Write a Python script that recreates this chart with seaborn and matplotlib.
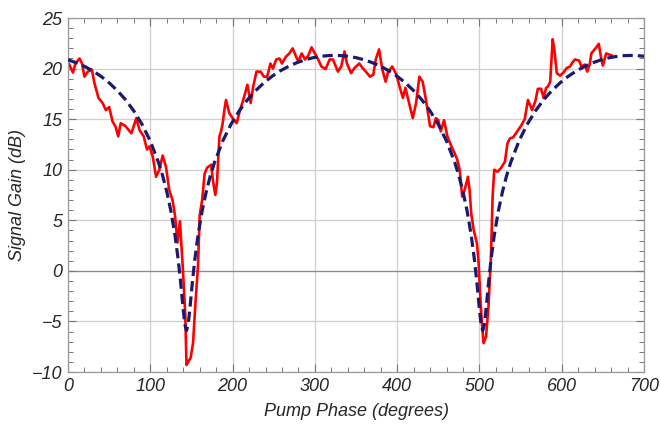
import matplotlib
matplotlib.use("Agg")
import matplotlib.pyplot as plt
import seaborn as sns
import pandas as pd
from matplotlib.ticker import MultipleLocator

# Measured signal gain (red)
meas_phase = [1, 6, 9, 14, 17, 20, 24, 29, 32, 37, 42, 46, 50, 54, 58, 61, 64, 70, 77, 83,
              87, 92, 96, 99, 103, 107, 111, 115, 119, 123, 127, 130, 133, 136, 139.5, 142.5,
              144, 146, 149, 152, 155, 158, 160, 163, 166, 169, 174, 176, 179, 181, 184, 186,
              188, 190, 192, 196, 200, 205, 209, 213, 218, 222, 225, 229, 234, 238, 242, 246,
              249, 253, 257, 260, 265, 269, 273, 277, 280, 284, 288, 292, 296, 300, 304, 308,
              313, 318, 322, 328, 332, 336, 339, 344, 348, 354, 358, 362, 367, 371, 374, 378,
              382, 386, 389, 394, 399, 403, 407, 410, 414, 419, 423, 427, 431, 435, 440, 444,
              447, 450, 453, 457, 461, 466, 470, 473, 476, 479, 482, 486, 488, 490, 493, 497,
              499, 501, 503, 505, 508, 511, 514, 516, 518, 522, 526, 531, 534, 537, 541, 546,
              551, 555, 559, 564, 568, 571, 575, 578, 581, 583, 586, 589, 591, 594, 598, 602,
              606, 610, 613, 616, 621, 624, 628, 631, 634, 636, 642, 645, 648, 650, 654, 657, 661]
meas_gain = [20.5, 19.6, 20.5, 21.0, 20.5, 19.2, 19.7, 19.9, 18.6, 17.1, 16.6, 15.9, 16.2, 14.8,
             14.2, 13.3, 14.6, 14.3, 13.6, 15.1, 13.9, 13.3, 12.0, 12.3, 11.3, 9.3, 10.0, 11.4,
             10.3, 8.0, 7.0, 5.5, 2.8, 4.9, 0.3, -4.3, -9.3, -9.0, -8.6, -7.1, -3.0, 0.5, 5.5,
             7.0, 9.6, 10.2, 10.5, 9.0, 7.5, 8.7, 13.3, 13.8, 14.6, 15.9, 16.9, 15.6, 15.1,
             14.6, 15.9, 16.9, 18.4, 16.6, 18.2, 19.7, 19.7, 19.2, 19.2, 20.5, 20.0, 20.9, 21.0,
             20.5, 21.2, 21.5, 22.0, 21.2, 20.7, 21.5, 20.9, 21.3, 22.1, 21.5, 20.9, 20.2, 19.95,
             20.9, 20.9, 19.7, 20.2, 21.7, 20.5, 19.55, 20.05, 20.5, 20.05, 19.7, 19.2, 19.4,
             20.9, 21.9, 19.9, 18.7, 19.7, 20.2, 19.4, 18.2, 17.1, 18.1, 16.75, 15.1, 16.6,
             19.2, 18.7, 16.9, 14.3, 14.2, 15.1, 14.9, 13.8, 14.9, 13.3, 12.3, 11.6, 11.0, 10.0,
             7.35, 8.0, 9.3, 8.0, 5.7, 4.05, 2.7, 0.75, -2.5, -5.2, -7.15, -6.5, -3.5, 1.4,
             7.35, 10.0, 9.8, 10.15, 10.8, 12.6, 13.1, 13.2, 13.8, 14.4, 15.0, 16.9, 15.9, 16.8,
             18.0, 18.0, 17.1, 18.1, 18.2, 18.7, 22.9, 21.9, 19.55, 19.3, 19.6, 20.05, 20.2,
             20.6, 20.9, 20.8, 20.2, 20.4, 19.7, 20.4, 21.5, 22.1, 22.45, 21.0, 20.3, 21.5,
             21.4, 21.3]

# Theory curve (dashed navy)
theory_phase = [0, 10, 20, 30, 40, 50, 60, 70, 80, 90, 100, 110, 115, 120, 125, 130, 134, 137,
                140, 142, 144, 146, 148, 151, 154, 158, 163, 168, 173, 178, 188, 198, 208, 218,
                228, 238, 248, 258, 268, 278, 288, 298, 308, 316, 324, 332, 340, 350, 360, 370,
                380, 390, 400, 410, 420, 430, 440, 450, 460, 470, 475, 480, 485, 490, 494, 497,
                500, 502, 504, 506, 508, 511, 514, 518, 523, 528, 533, 538, 548, 558, 568, 578,
                588, 598, 608, 618, 628, 638, 648, 658, 668, 676, 684, 692, 700]
theory_gain = [20.87, 20.58, 20.22, 19.78, 19.24, 18.59, 17.82, 16.91, 15.81, 14.48, 12.83,
               10.72, 9.41, 7.83, 5.93, 3.52, 1.05, -1.24, -3.83, -5.3, -5.9, -5.3, -3.83,
               -1.24, 1.05, 3.52, 5.93, 7.83, 9.41, 10.72, 12.83, 14.48, 15.81, 16.91, 17.82,
               18.59, 19.24, 19.78, 20.22, 20.58, 20.87, 21.08, 21.22, 21.28, 21.30, 21.28,
               21.22, 21.08, 20.87, 20.58, 20.22, 19.78, 19.24, 18.59, 17.82, 16.91, 15.81,
               14.48, 12.83, 10.72, 9.41, 7.83, 5.93, 3.52, 1.05, -1.24, -3.83, -5.3, -5.9,
               -5.3, -3.83, -1.24, 1.05, 3.52, 5.93, 7.83, 9.41, 10.72, 12.83, 14.48, 15.81,
               16.91, 17.82, 18.59, 19.24, 19.78, 20.22, 20.58, 20.87, 21.08, 21.22, 21.28,
               21.30, 21.28, 21.22]

x_ticks = [0, 100, 200, 300, 400, 500, 600, 700]
y_ticks = [-10, -5, 0, 5, 10, 15, 20, 25]

sns.set_theme(style="white")
plt.rcParams['font.family'] = ['Liberation Sans', 'DejaVu Sans']
plt.rcParams['axes.unicode_minus'] = True

fig = plt.figure(figsize=(6.61, 4.25), dpi=100)
ax = fig.add_axes([0.1029, 0.1247, 0.8714, 0.8329])

for xv in x_ticks:
    ax.axvline(xv, color="#cfcfcf", lw=0.9, zorder=0)
for yv in y_ticks:
    ax.axhline(yv, color="#cfcfcf", lw=0.9, zorder=0)
ax.axhline(0, color="#8a8a8a", lw=0.9, zorder=0.5)

df_m = pd.DataFrame({"phase": meas_phase, "gain": meas_gain})
df_t = pd.DataFrame({"phase": theory_phase, "gain": theory_gain})

sns.lineplot(data=df_m, x="phase", y="gain", ax=ax, color="#ff0000", lw=1.9,
             estimator=None, sort=False, zorder=2)
sns.lineplot(data=df_t, x="phase", y="gain", ax=ax, color="#1a1a6e", lw=2.3,
             estimator=None, sort=False, zorder=3, dashes=False)
ax.lines[-1].set_dashes((3.2, 1.6))

ax.set_xlim(0, 700)
ax.set_ylim(-10, 25)
ax.set_xticks(x_ticks)
ax.set_yticks(y_ticks)
ax.set_xticklabels([str(v) for v in x_ticks])
ax.set_yticklabels([str(v).replace("-", "\u2212") for v in y_ticks])
ax.xaxis.set_minor_locator(MultipleLocator(20))
ax.yaxis.set_minor_locator(MultipleLocator(1))
ax.tick_params(which="both", direction="in", top=True, right=True, bottom=True, left=True,
               color="#777777")
ax.tick_params(which="major", length=6, width=0.8, labelsize=13, pad=4)
ax.tick_params(which="minor", length=3.5, width=0.7)
for lab in ax.get_xticklabels() + ax.get_yticklabels():
    lab.set_fontstyle("italic")

for sp in ax.spines.values():
    sp.set_color("#999999")
    sp.set_linewidth(0.9)

ax.set_xlabel("Pump Phase (degrees)", fontsize=13, fontstyle="italic", labelpad=6)
ax.set_ylabel("Signal Gain (dB)", fontsize=13, fontstyle="italic", labelpad=4)

fig.savefig("out.png", dpi=100)
